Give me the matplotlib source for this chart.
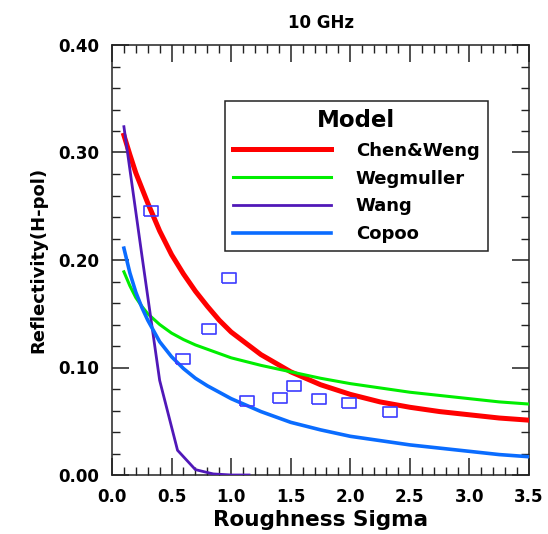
import numpy as np
import matplotlib
matplotlib.use('Agg')
import matplotlib.pyplot as plt
from matplotlib.ticker import MultipleLocator, FormatStrFormatter

plt.rcParams['font.family'] = 'DejaVu Sans'
plt.rcParams['font.weight'] = 'bold'

# H-pol reflectivity vs roughness, 10 GHz
sigma = [0.1, 0.15, 0.2, 0.25, 0.3, 0.4, 0.5, 0.6, 0.7, 0.8, 0.9, 1.0,
         1.25, 1.5, 1.75, 2.0, 2.25, 2.5, 2.75, 3.0, 3.25, 3.5]
chen_weng = [0.316, 0.298, 0.281, 0.267, 0.253, 0.227, 0.205, 0.187, 0.171, 0.157, 0.144, 0.133,
             0.112, 0.096, 0.084, 0.075, 0.068, 0.063, 0.059, 0.056, 0.053, 0.051]
wegmuller = [0.189, 0.176, 0.165, 0.157, 0.150, 0.140, 0.132, 0.126, 0.121, 0.117, 0.113, 0.109,
             0.102, 0.096, 0.090, 0.085, 0.081, 0.077, 0.074, 0.071, 0.068, 0.066]
copoo = [0.211, 0.188, 0.170, 0.156, 0.144, 0.124, 0.110, 0.099, 0.090, 0.083, 0.077, 0.071,
         0.059, 0.049, 0.042, 0.036, 0.032, 0.028, 0.025, 0.022, 0.019, 0.017]

# Wang model is only evaluated up to sigma = 1.15
sigma_wang = [0.1, 0.25, 0.4, 0.55, 0.7, 0.85, 1.0, 1.15]
wang = [0.324, 0.205, 0.088, 0.023, 0.005, 0.001, 0.0, 0.0]

# measurements
obs_sigma = [0.33, 0.60, 0.81, 0.98, 1.13, 1.41, 1.53, 1.74, 1.99, 2.33]
obs_refl = [0.246, 0.108, 0.136, 0.183, 0.069, 0.072, 0.083, 0.071, 0.067, 0.059]

my_dpi = 100
fig = plt.figure(figsize=(548/my_dpi, 534/my_dpi), dpi=my_dpi)
ax = fig.add_axes([112/548, 59/534, 417/548, 430/534])

ax.plot(sigma, chen_weng, color='#ff0000', lw=3.6, label='Chen&Weng', zorder=3)
ax.plot(sigma, wegmuller, color='#00ee00', lw=2.2, label='Wegmuller', zorder=3)
ax.plot(sigma_wang, wang, color='#5018b8', lw=2.0, label='Wang', zorder=3)
ax.plot(sigma, copoo, color='#0a6cff', lw=2.6, label='Copoo', zorder=3)

# slightly wide hollow box for the measured points
box = [(-1.3, -1), (1.3, -1), (1.3, 1), (-1.3, 1), (-1.3, -1)]
ax.plot(obs_sigma, obs_refl, linestyle='none', marker=box, markersize=10,
        markerfacecolor='none', markeredgecolor='#3c3cff', markeredgewidth=1.2,
        zorder=4)

ax.set_xlim(0.0, 3.5)
ax.set_ylim(0.0, 0.40)
ax.xaxis.set_major_locator(MultipleLocator(0.5))
ax.xaxis.set_minor_locator(MultipleLocator(0.1))
ax.yaxis.set_major_locator(MultipleLocator(0.1))
ax.yaxis.set_minor_locator(MultipleLocator(0.02))
ax.xaxis.set_major_formatter(FormatStrFormatter('%.1f'))
ax.yaxis.set_major_formatter(FormatStrFormatter('%.2f'))

ax.tick_params(which='both', direction='in', top=True, right=True, color='#222222')
ax.tick_params(which='major', length=12, width=1.1, labelsize=12, pad=9)
ax.tick_params(which='minor', length=6, width=1.0)
for s in ax.spines.values():
    s.set_linewidth(1.1)
    s.set_color('#222222')

ax.set_xlabel('Roughness Sigma', fontsize=15.5, fontweight='bold', labelpad=3)
ax.set_ylabel('Reflectivity(H-pol)', fontsize=13, fontweight='bold', labelpad=8)
ax.set_title('10 GHz', fontsize=12, fontweight='bold', pad=12)

leg = ax.legend(loc='upper left', bbox_to_anchor=(0.271, 0.870), borderaxespad=0,
                title='Model', title_fontsize=16.5, fontsize=13,
                handlelength=5.4, handletextpad=1.4, labelspacing=0.54,
                borderpad=0.45, fancybox=False, framealpha=1, edgecolor='#222222')
leg.get_frame().set_linewidth(1.1)
leg.get_title().set_fontweight('bold')
for t in leg.get_texts():
    t.set_fontweight('bold')

fig.savefig('out.png', dpi=my_dpi)
